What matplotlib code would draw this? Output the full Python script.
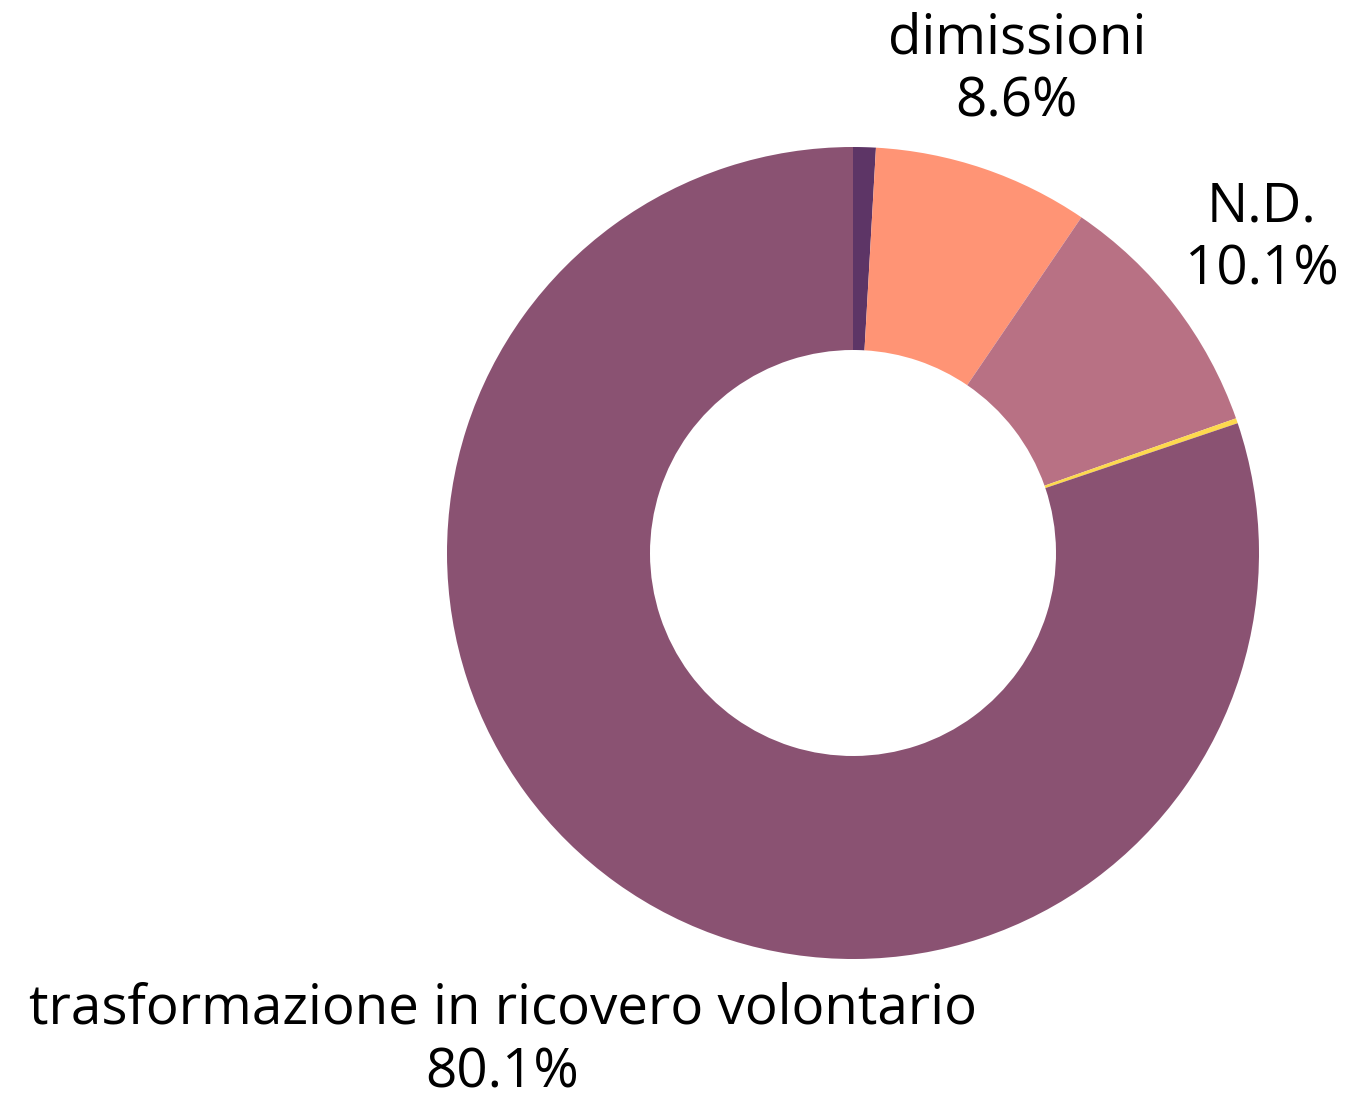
import matplotlib
matplotlib.use("Agg")
import matplotlib.pyplot as plt
import numpy as np

categories = ["", "dimissioni", "N.D.", "", "trasformazione in ricovero volontario"]
values = [0.9, 8.6, 10.1, 0.2, 80.1]
show_label = [False, True, True, False, True]
colors = ["#5D3566", "#FF9475", "#B87184", "#FDD94E", "#8A5272"]

W, H = 1353, 1099
fig = plt.figure(figsize=(W / 100, H / 100), dpi=100)
ax = fig.add_axes([0, 0, 1, 1])
R = 406.0
cx, cy = 853.0, 546.0  # center in px from bottom-left
ax.axis("off")

wedges, _ = ax.pie(values, colors=colors, startangle=90, counterclock=False,
                   radius=1.0, wedgeprops=dict(width=0.5, linewidth=0),
                   normalize=True)
ax.set_xlim(-cx / R, (W - cx) / R)
ax.set_ylim(-cy / R, (H - cy) / R)
ax.set_aspect("auto")

label_dist = [1.25, 1.255, 1.27, 1.25, 1.48]
total = sum(values)
cum = 0.0
for i, (cat, v) in enumerate(zip(categories, values)):
    mid = cum + v / 2
    cum += v
    if not show_label[i]:
        continue
    ang = np.deg2rad(90 - 360 * mid / total)
    r = label_dist[i]
    ax.text(r * np.cos(ang), r * np.sin(ang), f"{cat}\n{v:.1f}%",
            ha="center", va="center", fontsize=39.4, family="Open Sans",
            linespacing=1.2, color="black")

fig.savefig("out.png", dpi=100)
